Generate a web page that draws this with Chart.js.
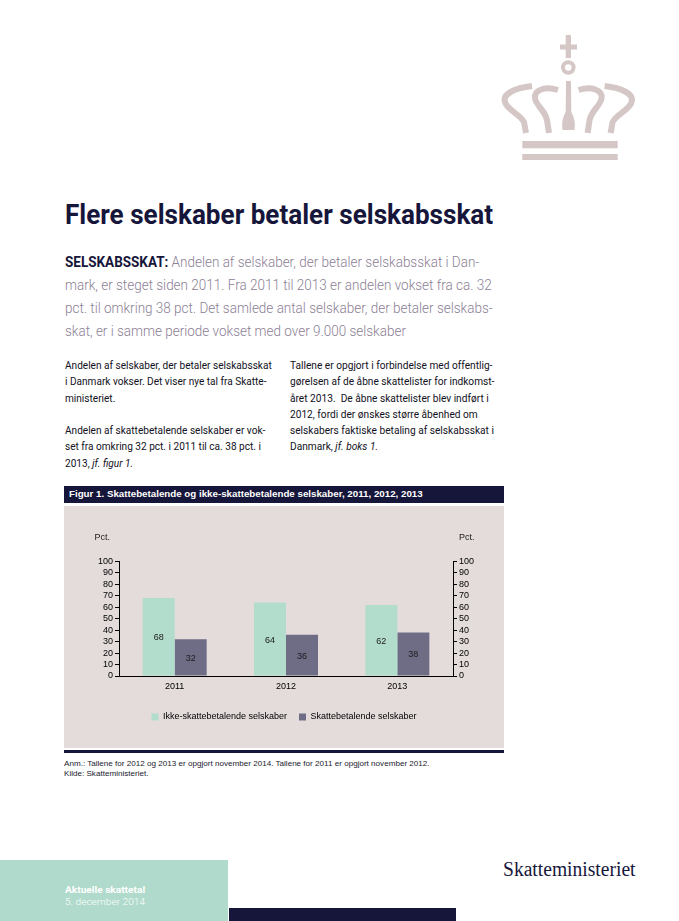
<!DOCTYPE html>
<html lang="da">
<head>
<meta charset="UTF-8">
<title>Flere selskaber betaler selskabsskat</title>
<script src="https://cdn.jsdelivr.net/npm/chart.js"></script>
<style>
  body { margin: 0; width: 679px; height: 921px; position: relative; overflow: hidden; background: #fff; font-family: Roboto, "Liberation Sans", Arial, sans-serif; }
  .abs { position: absolute; }
  .fit { display: inline-block; white-space: nowrap; transform-origin: 0 0; }
</style>
</head>
<body>

<!-- krone -->
<svg class="abs" style="left:490px; top:30px;" width="150" height="140" viewBox="0 0 150 140">
  <g fill="#d6c7c7" stroke="none">
    <rect x="75.7" y="5" width="5.3" height="23"/>
    <rect x="70" y="14.5" width="17" height="5"/>
    <path d="M76,51 L81,51 L81.3,82 Q86,90 84.5,100 L72.5,100 Q71,90 75.7,82 Z"/>
    <rect x="32.3" y="111" width="95.4" height="7.3"/>
    <rect x="32.3" y="124" width="95.4" height="6"/>
  </g>
  <circle cx="78.3" cy="37.5" r="5.3" fill="none" stroke="#d6c7c7" stroke-width="4"/>
  <g fill="none" stroke="#d6c7c7" stroke-width="6">
    <path d="M42,56 C25,58 12,64 15,72 C17,80 30,84 34,92 L36,103"/>
    <path d="M68,60 C55,56 44,60 45,68 C46,76 55,80 57,90 L59,103"/>
    <g transform="translate(156.6,0) scale(-1,1)">
      <path d="M42,56 C25,58 12,64 15,72 C17,80 30,84 34,92 L36,103"/>
      <path d="M68,60 C55,56 44,60 45,68 C46,76 55,80 57,90 L59,103"/>
    </g>
  </g>
</svg>

<div class="abs fit" data-w="428" style="left:65px; top:199px; font-size:27px; line-height:32px; font-weight:700; color:#16163b;">Flere selskaber betaler selskabsskat</div>

<div class="abs fit" data-w="428" style="left:65px; top:251px; font-size:15px; line-height:23px; font-weight:300; color:#8b8095;"><b style="font-weight:700; color:#16163b;">SELSKABSSKAT:</b> Andelen af selskaber, der betaler selskabsskat i Dan-<br>mark, er steget siden 2011. Fra 2011 til 2013 er andelen vokset fra ca. 32<br>pct. til omkring 38 pct. Det samlede antal selskaber, der betaler selskabs-<br>skat, er i samme periode vokset med over 9.000 selskaber</div>

<div class="abs fit" data-w="207" style="left:65px; top:358px; font-size:11px; line-height:16.3px; font-weight:400; color:#111122;">Andelen af selskaber, der betaler selskabsskat<br>i Danmark vokser. Det viser nye tal fra Skatte-<br>ministeriet.<br><br>Andelen af skattebetalende selskaber er vok-<br>set fra omkring 32 pct. i 2011 til ca. 38 pct. i<br>2013, <i>jf. figur 1.</i></div>

<div class="abs fit" data-w="204" style="left:290px; top:358px; font-size:11px; line-height:16.3px; font-weight:400; color:#111122;">Tallene er opgjort i forbindelse med offentlig-<br>gørelsen af de åbne skattelister for indkomst-<br>året 2013.&nbsp; De åbne skattelister blev indført i<br>2012, fordi der ønskes større åbenhed om<br>selskabers faktiske betaling af selskabsskat i<br>Danmark, <i>jf. boks 1.</i></div>

<!-- figur -->
<div class="abs" style="left:64px; top:486px; width:440px; height:17px; background:#16163b;"></div>
<div class="abs fit" data-w="354" style="left:69px; top:489px; font-family:'Liberation Sans', Arial, sans-serif; font-size:9px; line-height:11px; font-weight:700; color:#fff;">Figur 1. Skattebetalende og ikke-skattebetalende selskaber, 2011, 2012, 2013</div>
<div class="abs" style="left:64px; top:506px; width:440px; height:242px; background:#e3dcdb;">
  <canvas id="figur1"></canvas>
</div>
<div class="abs" style="left:64px; top:750px; width:440px; height:2.5px; background:#16163b;"></div>
<div class="abs fit" data-w="366" style="left:64px; top:759px; font-family:'Liberation Sans', Arial, sans-serif; font-size:8px; line-height:9.5px; color:#1a1a2e;">Anm.: Tallene for 2012 og 2013 er opgjort november 2014. Tallene for 2011 er opgjort november 2012.<br>Kilde: Skatteministeriet.</div>

<!-- bund -->
<div class="abs" style="left:0; top:860px; width:228px; height:61px; background:#b0dacb;"></div>
<div class="abs" style="left:229px; top:908px; width:227px; height:13px; background:#16163b;"></div>
<div class="abs fit" data-w="80" style="left:65px; top:884px; font-size:9.5px; line-height:12px; color:#fff;"><b>Aktuelle skattetal</b><br><span style="font-weight:300;">5. december 2014</span></div>
<div class="abs fit" data-w="133" style="left:503px; top:857px; font-family:'Liberation Serif', 'DejaVu Serif', serif; font-size:20px; line-height:24px; color:#16163b;">Skatteministeriet</div>

<script>
// data fra figur 1
const years = ['2011', '2012', '2013'];
const ikkeSkattebetalende = [68, 64, 62];
const skattebetalende = [32, 36, 38];
const seriesNames = ['Ikke-skattebetalende selskaber', 'Skattebetalende selskaber'];
const seriesColors = ['#b2dccc', '#6f6d86'];
const yMin = 0, yMax = 100, yStep = 10;
const unitLabel = 'Pct.';

// tekst der skal passe i bredden
document.querySelectorAll('[data-w]').forEach(el => {
  const w = el.scrollWidth;
  el.style.transform = 'scaleX(' + (el.dataset.w / w) + ')';
});

const fontSmall = { family: "'Liberation Sans', Arial, sans-serif", size: 9 };

// tal inde i soejlerne + "Pct." over akserne
const labelPlugin = {
  id: 'labelPlugin',
  afterDatasetsDraw(chart) {
    const ctx = chart.ctx;
    ctx.save();
    ctx.font = '9px "Liberation Sans", Arial, sans-serif';
    ctx.fillStyle = '#1a1a1a';
    ctx.textAlign = 'center';
    ctx.textBaseline = 'middle';
    chart.data.datasets.forEach((ds, i) => {
      chart.getDatasetMeta(i).data.forEach((bar, j) => {
        ctx.fillText(ds.data[j], bar.x, (bar.y + bar.base) / 2 + 1);
      });
    });
    const yl = chart.scales.y, yr = chart.scales.y2;
    const py = yl.getPixelForValue(yMax) - 24;
    ctx.textAlign = 'right';
    ctx.fillText(unitLabel, yl.right - 9, py);
    ctx.textAlign = 'left';
    ctx.fillText(unitLabel, yr.left + 6, py);
    ctx.restore();
  }
};

function yAxis(position, width) {
  return {
    position: position,
    min: yMin,
    max: yMax,
    ticks: { stepSize: yStep, autoSkip: false, color: '#000', font: fontSmall, padding: 2 },
    grid: { drawOnChartArea: false, tickLength: 4, color: '#000' },
    border: { color: '#000' },
    afterFit(s) { s.width = width; }
  };
}

new Chart(document.getElementById('figur1'), {
  type: 'bar',
  data: {
    labels: years,
    datasets: [
      { label: seriesNames[0], data: ikkeSkattebetalende, backgroundColor: seriesColors[0], yAxisID: 'y' },
      { label: seriesNames[1], data: skattebetalende, backgroundColor: seriesColors[1], yAxisID: 'y' }
    ]
  },
  options: {
    responsive: true,
    maintainAspectRatio: false,
    animation: false,
    categoryPercentage: 0.575,
    barPercentage: 1,
    layout: { padding: { top: 55.3, bottom: 16.5, left: 0, right: 0 } },
    scales: {
      x: {
        grid: { display: false, drawTicks: false },
        border: { color: '#000' },
        ticks: { color: '#000', font: fontSmall, padding: 5 },
        afterFit(s) { s.height = 24.5; }
      },
      y: yAxis('left', 55),
      y2: yAxis('right', 51)
    },
    plugins: {
      legend: {
        position: 'bottom',
        labels: { boxWidth: 7, boxHeight: 7, padding: 12, color: '#000', font: fontSmall }
      },
      tooltip: { enabled: false }
    }
  },
  plugins: [labelPlugin]
});
</script>
</body>
</html>
